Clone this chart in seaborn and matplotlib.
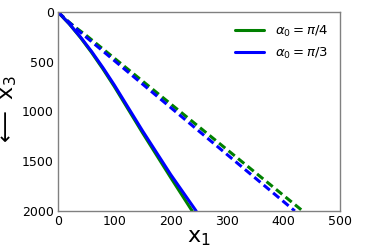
import numpy as np
import pandas as pd
import seaborn as sns
import matplotlib
matplotlib.use("Agg")
import matplotlib.pyplot as plt

# ray paths (x1, x3)
solid_pi4_x = [0, 20, 40, 60, 80, 100, 150, 200, 238]
solid_pi4_z = [0, 120, 258, 410, 575, 750, 1215, 1665, 2000]
solid_pi3_x = [0, 20, 40, 60, 80, 100, 150, 200, 245]
solid_pi3_z = [0, 118, 252, 400, 562, 735, 1195, 1635, 2000]
dash_pi4_x = [0, 15, 30, 50, 434]
dash_pi4_z = [0, 80, 150, 235, 2000]
dash_pi3_x = [0, 15, 30, 420]
dash_pi3_z = [0, 80, 158, 2000]

sns.set_style("white")
plt.rcParams["font.family"] = ["DejaVu Sans"]

fig = plt.figure(figsize=(3.74, 2.5), dpi=100)
ax = fig.add_axes([0.155, 0.156, 0.754, 0.796])

sns.lineplot(x=solid_pi4_x, y=solid_pi4_z, sort=False, estimator=None, color="green", lw=2.2, ax=ax, label=r"$\alpha_0 = \pi/4$")
sns.lineplot(x=solid_pi3_x, y=solid_pi3_z, sort=False, estimator=None, color="blue", lw=2.2, ax=ax, label=r"$\alpha_0 = \pi/3$")
sns.lineplot(x=dash_pi4_x, y=dash_pi4_z, sort=False, estimator=None, color="green", lw=2.2, ls=(0, (2.6, 1.4)), ax=ax)
sns.lineplot(x=dash_pi3_x, y=dash_pi3_z, sort=False, estimator=None, color="blue", lw=2.2, ls=(0, (2.6, 1.4)), ax=ax)

ax.set_xlim(0, 500)
ax.set_ylim(2000, 0)
ax.set_xticks([0, 100, 200, 300, 400, 500])
ax.set_yticks([0, 500, 1000, 1500, 2000])
ax.tick_params(labelsize=9, length=2, color="gray", labelcolor="black", pad=1)
for s in ax.spines.values():
    s.set_color("gray")
    s.set_linewidth(1.0)

ax.set_xlabel(r"$\mathrm{x}_1$", fontsize=16, labelpad=0, color="black")
ax.set_ylabel(r"$\longleftarrow\ \mathrm{x}_3$", fontsize=16, labelpad=2, color="black")

leg = ax.legend(loc="upper right", frameon=False, fontsize=9.5, handlelength=2.2)
for t in leg.get_texts():
    t.set_color("black")

fig.savefig("out.png", dpi=100)
